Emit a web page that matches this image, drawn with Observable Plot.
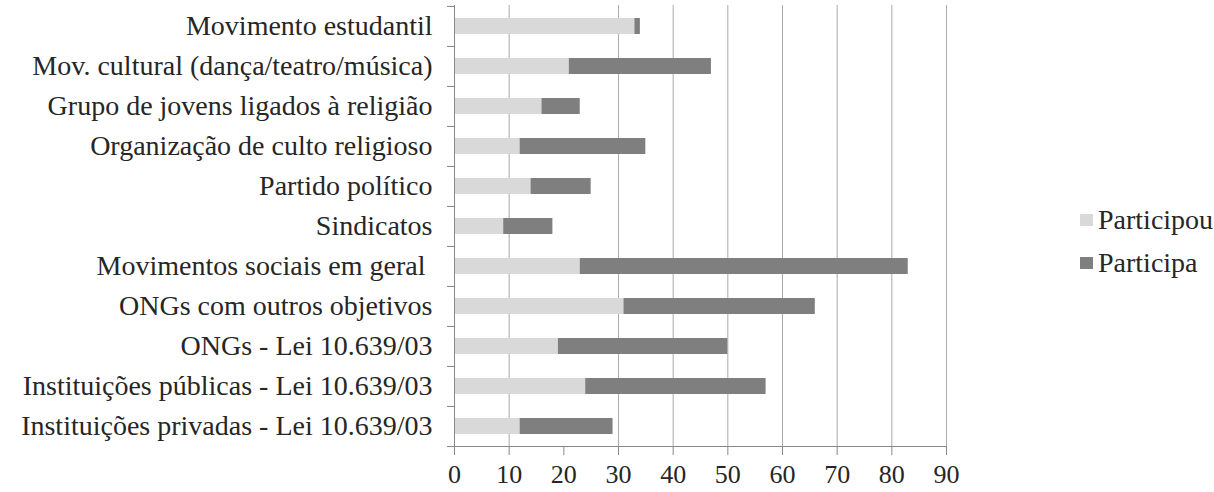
<!DOCTYPE html>
<html>
<head>
<meta charset="utf-8">
<script src="https://cdn.jsdelivr.net/npm/d3@7"></script>
<script src="https://cdn.jsdelivr.net/npm/@observablehq/plot@0.6"></script>
<style>
  html, body { margin: 0; padding: 0; background: #fff; overflow: hidden; }
  #wrap { position: relative; width: 1214px; height: 492px; overflow: hidden; font-family: "Liberation Serif", "DejaVu Serif", serif; }
  .leg { position: absolute; left: 1080px; font-size: 28px; color: #262626; white-space: nowrap; line-height: 1; }
  .leg span.sw { display: inline-block; width: 13px; height: 12px; margin-right: 5px; vertical-align: 3px; }
</style>
</head>
<body>
<div id="wrap"></div>
<script>
const categories = [
  "Movimento estudantil",
  "Mov. cultural (dança/teatro/música)",
  "Grupo de jovens ligados à religião",
  "Organização de culto religioso",
  "Partido político",
  "Sindicatos",
  "Movimentos sociais em geral ",
  "ONGs com outros objetivos",
  "ONGs - Lei 10.639/03",
  "Instituições públicas - Lei 10.639/03",
  "Instituições privadas - Lei 10.639/03"
];
const participou = [33, 21, 16, 12, 14, 9, 23, 31, 19, 24, 12];
const participa  = [1, 26, 7, 23, 11, 9, 60, 35, 31, 33, 17];
const seriesNames = ["Participou", "Participa"];
const seriesColors = ["#d9d9d9", "#7f7f7f"];
const xTicks = [0, 10, 20, 30, 40, 50, 60, 70, 80, 90];
const gridValues = [10, 30, 40, 50, 60, 70, 80, 90];

const data = [];
categories.forEach((c, i) => {
  data.push({category: c, series: seriesNames[0], value: participou[i]});
  data.push({category: c, series: seriesNames[1], value: participa[i]});
});

const step = (446 - 5) / categories.length;

const chart = Plot.plot({
  width: 1214,
  height: 492,
  marginTop: 5,
  marginBottom: 46,
  marginLeft: 454,
  marginRight: 268,
  style: {fontFamily: "'Liberation Serif', serif", color: "#262626", background: "#fff"},
  x: {domain: [0, 90], label: null},
  y: {domain: categories, paddingInner: 0.61, paddingOuter: 0.305, label: null},
  color: {domain: seriesNames, range: seriesColors},
  marks: [
    Plot.ruleX(gridValues, {stroke: "#ababab", strokeWidth: 1}),
    Plot.barX(data, Plot.stackX({y: "category", x: "value", fill: "series", order: seriesNames})),
    Plot.ruleY(categories, {y: d => d, x1: -1.3, x2: 0, dy: -step / 2, stroke: "#888"}),
    Plot.ruleY([categories[categories.length - 1]], {y: d => d, x1: -1.3, x2: 0, dy: step / 2, stroke: "#888"}),
    Plot.frame({anchor: "left", stroke: "#888"}),
    Plot.frame({anchor: "bottom", stroke: "#888"}),
    Plot.axisY({tickSize: 0, tickPadding: 22, fontSize: 28, color: "#262626", label: null}),
    Plot.axisX({ticks: xTicks, tickSize: 9, tickFormat: () => "", color: "#888", label: null}),
    Plot.axisX({ticks: xTicks, tickSize: 0, tickPadding: 18, fontSize: 26, color: "#262626", label: null})
  ]
});

const wrap = document.getElementById("wrap");
wrap.appendChild(chart);

const legTops = [206, 249];
seriesNames.forEach((name, i) => {
  const d = document.createElement("div");
  d.className = "leg";
  d.style.top = legTops[i] + "px";
  d.innerHTML = `<span class="sw" style="background:${seriesColors[i]}"></span>${name}`;
  wrap.appendChild(d);
});
</script>
</body>
</html>
